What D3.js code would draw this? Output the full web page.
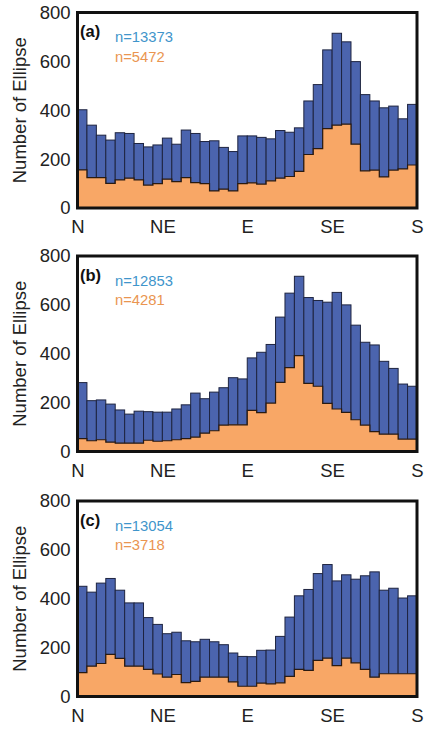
<!DOCTYPE html>
<html>
<head>
<meta charset="utf-8">
<script src="https://cdn.jsdelivr.net/npm/d3@7"></script>
<style>
  html, body { margin: 0; padding: 0; background: #fff; }
  svg { display: block; font-family: "Liberation Sans", Arial, sans-serif; }
</style>
</head>
<body>
<svg id="chart" width="428" height="730"></svg>
<script>
// ---- data ----
const directionLabels = ["N", "NE", "E", "SE", "S"];
const directionTicks = [0, 45, 90, 135, 180];
const yTicks = [0, 200, 400, 600, 800];
const bins = d3.range(0, 180, 5); // 36 bins of 5 degrees (bin start angles)

const panelLabels = ["(a)", "(b)", "(c)"];
const totalN = ["n=13373", "n=12853", "n=13054"];
const subsetN = ["n=5472", "n=4281", "n=3718"];

const allA = [402, 339, 298, 278, 308, 305, 264, 250, 258, 286, 261, 319, 305, 272, 275,
              248, 231, 295, 295, 289, 283, 317, 310, 328, 438, 505, 647, 715, 680, 599,
              464, 438, 410, 417, 365, 424];
const subA = [156, 124, 124, 101, 115, 122, 115, 94, 100, 118, 108, 124, 104, 100, 70,
              77, 70, 100, 103, 98, 111, 122, 129, 150, 219, 243, 325, 339, 343, 261,
              152, 155, 127, 155, 160, 176];

const allB = [282, 208, 211, 194, 170, 153, 165, 163, 161, 161, 174, 191, 239, 216, 243,
              261, 302, 297, 383, 406, 438, 550, 648, 717, 630, 618, 611, 651, 600, 517,
              447, 436, 369, 340, 276, 267];
const subB = [53, 44, 48, 38, 34, 34, 34, 46, 42, 44, 48, 53, 59, 75, 85,
              108, 109, 109, 168, 159, 198, 283, 343, 392, 279, 267, 197, 174, 160, 130,
              108, 81, 71, 71, 51, 51];

const allC = [451, 427, 464, 483, 435, 383, 383, 323, 295, 257, 263, 228, 224, 234, 224,
              212, 178, 164, 163, 189, 190, 246, 325, 412, 438, 503, 540, 473, 498, 480,
              494, 510, 435, 443, 403, 412];
const subC = [98, 124, 135, 172, 156, 124, 124, 111, 92, 79, 90, 57, 62, 79, 79,
              79, 60, 42, 42, 55, 52, 56, 82, 111, 107, 148, 157, 126, 157, 138,
              111, 79, 93, 93, 93, 93];

const allSeries = [allA, allB, allC];
const subSeries = [subA, subB, subC];

// ---- layout ----
const panelTops = [12.5, 256, 501];
const plotLeft = 77.5, plotRight = 417, plotH = 195.5;

const blue = "#4b64ae";
const orange = "#f8a766";
const blueText = "#3f95cb";
const orangeText = "#ea9550";

const svg = d3.select("#chart");

panelTops.forEach((top, p) => {
  const g = svg.append("g");
  const x = d3.scaleLinear().domain([0, 180]).range([plotLeft, plotRight]);
  const y = d3.scaleLinear().domain([0, 800]).range([top + plotH, top]);
  const binW = 5;

  const all = allSeries[p];
  const sub = subSeries[p];

  // blue bars (total)
  g.selectAll("rect.all").data(bins).join("rect")
    .attr("class", "all")
    .attr("x", d => x(d))
    .attr("width", d => x(d + binW) - x(d))
    .attr("y", (d, i) => y(all[i]))
    .attr("height", (d, i) => y(0) - y(all[i]))
    .attr("fill", blue)
    .attr("stroke", "#1e2440")
    .attr("stroke-width", 1);

  // orange step area (subset)
  const pts = bins.map((d, i) => [d, sub[i]]);
  pts.push([180, sub[sub.length - 1]]);
  const area = d3.area()
    .x(d => x(d[0]))
    .y0(y(0))
    .y1(d => y(d[1]))
    .curve(d3.curveStepAfter);
  g.append("path").datum(pts)
    .attr("d", area)
    .attr("fill", orange);
  const line = d3.line()
    .x(d => x(d[0]))
    .y(d => y(d[1]))
    .curve(d3.curveStepAfter);
  g.append("path").datum(pts)
    .attr("d", line)
    .attr("fill", "none")
    .attr("stroke", "#2a1a10")
    .attr("stroke-width", 1.2);

  // frame
  g.append("rect")
    .attr("x", plotLeft).attr("y", top)
    .attr("width", plotRight - plotLeft).attr("height", plotH)
    .attr("fill", "none")
    .attr("stroke", "#111")
    .attr("stroke-width", 3);

  // axes
  const yAxis = d3.axisLeft(y).tickValues(yTicks).tickSize(0).tickPadding(7);
  const ya = g.append("g").attr("transform", `translate(${plotLeft},0)`).call(yAxis);
  ya.select(".domain").remove();
  ya.selectAll("text").attr("font-size", 18.5).attr("fill", "#222")
    .attr("font-family", "Liberation Sans, Arial, sans-serif");

  const xAxis = d3.axisBottom(x).tickValues(directionTicks)
    .tickFormat((d, i) => directionLabels[i]).tickSize(0).tickPadding(12);
  const xa = g.append("g").attr("transform", `translate(0,${top + plotH})`).call(xAxis);
  xa.select(".domain").remove();
  xa.selectAll("text").attr("font-size", 18.5).attr("fill", "#222")
    .attr("font-family", "Liberation Sans, Arial, sans-serif");

  // y title
  g.append("text")
    .attr("transform", `translate(25.5,${top + plotH / 2}) rotate(-90)`)
    .attr("text-anchor", "middle")
    .attr("font-size", 18.5)
    .attr("fill", "#222")
    .text("Number of Ellipse");

  // panel label
  g.append("text")
    .attr("x", 80).attr("y", top + 24.5)
    .attr("font-size", 16.5).attr("font-weight", "bold").attr("fill", "#111")
    .text(panelLabels[p]);

  g.append("text")
    .attr("x", 115).attr("y", top + 29.5)
    .attr("font-size", 14.8).attr("fill", blueText)
    .text(totalN[p]);
  g.append("text")
    .attr("x", 115).attr("y", top + 49)
    .attr("font-size", 14.8).attr("fill", orangeText)
    .text(subsetN[p]);
});
</script>
</body>
</html>
